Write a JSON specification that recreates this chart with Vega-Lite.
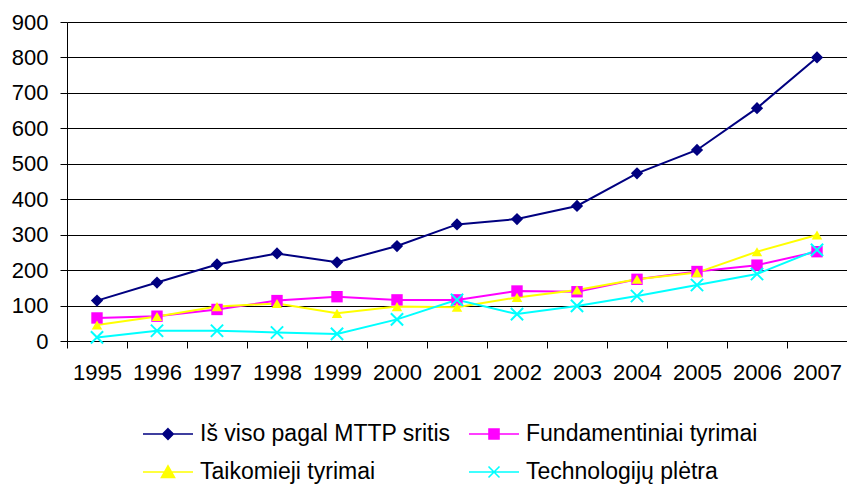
{
  "$schema": "https://vega.github.io/schema/vega-lite/v6.json",
  "width": 780,
  "height": 319,
  "autosize": {"type": "none"},
  "padding": {"left": 67, "top": 22, "right": 0, "bottom": 145},
  "background": "#ffffff",
  "config": {
    "view": {"stroke": null},
    "font": "Liberation Sans",
    "axis": {"labelFont": "Liberation Sans", "labelFontSize": 22, "labelColor": "#000000", "domainColor": "#000000", "tickColor": "#000000", "gridColor": "#000000", "domainWidth": 1, "tickWidth": 1, "gridWidth": 1, "title": null},
    "legend": {"labelFont": "Liberation Sans", "labelFontSize": 23, "labelColor": "#000000", "labelLimit": 400}
  },
  "data": {
    "values": [
      {"year": "1995", "series": "Iš viso pagal MTTP sritis", "value": 114},
      {"year": "1996", "series": "Iš viso pagal MTTP sritis", "value": 165},
      {"year": "1997", "series": "Iš viso pagal MTTP sritis", "value": 216},
      {"year": "1998", "series": "Iš viso pagal MTTP sritis", "value": 247},
      {"year": "1999", "series": "Iš viso pagal MTTP sritis", "value": 222},
      {"year": "2000", "series": "Iš viso pagal MTTP sritis", "value": 268},
      {"year": "2001", "series": "Iš viso pagal MTTP sritis", "value": 329},
      {"year": "2002", "series": "Iš viso pagal MTTP sritis", "value": 344},
      {"year": "2003", "series": "Iš viso pagal MTTP sritis", "value": 381},
      {"year": "2004", "series": "Iš viso pagal MTTP sritis", "value": 473},
      {"year": "2005", "series": "Iš viso pagal MTTP sritis", "value": 539},
      {"year": "2006", "series": "Iš viso pagal MTTP sritis", "value": 657},
      {"year": "2007", "series": "Iš viso pagal MTTP sritis", "value": 800},
      {"year": "1995", "series": "Fundamentiniai tyrimai", "value": 65},
      {"year": "1996", "series": "Fundamentiniai tyrimai", "value": 70},
      {"year": "1997", "series": "Fundamentiniai tyrimai", "value": 89},
      {"year": "1998", "series": "Fundamentiniai tyrimai", "value": 114},
      {"year": "1999", "series": "Fundamentiniai tyrimai", "value": 125},
      {"year": "2000", "series": "Fundamentiniai tyrimai", "value": 116},
      {"year": "2001", "series": "Fundamentiniai tyrimai", "value": 116},
      {"year": "2002", "series": "Fundamentiniai tyrimai", "value": 141},
      {"year": "2003", "series": "Fundamentiniai tyrimai", "value": 139},
      {"year": "2004", "series": "Fundamentiniai tyrimai", "value": 174},
      {"year": "2005", "series": "Fundamentiniai tyrimai", "value": 196},
      {"year": "2006", "series": "Fundamentiniai tyrimai", "value": 214},
      {"year": "2007", "series": "Fundamentiniai tyrimai", "value": 252},
      {"year": "1995", "series": "Taikomieji tyrimai", "value": 45},
      {"year": "1996", "series": "Taikomieji tyrimai", "value": 69},
      {"year": "1997", "series": "Taikomieji tyrimai", "value": 97},
      {"year": "1998", "series": "Taikomieji tyrimai", "value": 106},
      {"year": "1999", "series": "Taikomieji tyrimai", "value": 78},
      {"year": "2000", "series": "Taikomieji tyrimai", "value": 97},
      {"year": "2001", "series": "Taikomieji tyrimai", "value": 95},
      {"year": "2002", "series": "Taikomieji tyrimai", "value": 123},
      {"year": "2003", "series": "Taikomieji tyrimai", "value": 144},
      {"year": "2004", "series": "Taikomieji tyrimai", "value": 174},
      {"year": "2005", "series": "Taikomieji tyrimai", "value": 193},
      {"year": "2006", "series": "Taikomieji tyrimai", "value": 252},
      {"year": "2007", "series": "Taikomieji tyrimai", "value": 299},
      {"year": "1995", "series": "Technologijų plėtra", "value": 10},
      {"year": "1996", "series": "Technologijų plėtra", "value": 29},
      {"year": "1997", "series": "Technologijų plėtra", "value": 29},
      {"year": "1998", "series": "Technologijų plėtra", "value": 24},
      {"year": "1999", "series": "Technologijų plėtra", "value": 20},
      {"year": "2000", "series": "Technologijų plėtra", "value": 61},
      {"year": "2001", "series": "Technologijų plėtra", "value": 116},
      {"year": "2002", "series": "Technologijų plėtra", "value": 76},
      {"year": "2003", "series": "Technologijų plėtra", "value": 99},
      {"year": "2004", "series": "Technologijų plėtra", "value": 127},
      {"year": "2005", "series": "Technologijų plėtra", "value": 158},
      {"year": "2006", "series": "Technologijų plėtra", "value": 189},
      {"year": "2007", "series": "Technologijų plėtra", "value": 257}
    ]
  },
  "encoding": {
    "x": {"field": "year", "type": "ordinal", "scale": {"paddingInner": 0, "paddingOuter": 0},
      "axis": {"labelAngle": 0, "tickBand": "extent", "tickSize": 7, "labelPadding": 14, "grid": false}},
    "y": {"field": "value", "type": "quantitative", "scale": {"domain": [0, 900], "nice": false},
      "axis": {"values": [0, 100, 200, 300, 400, 500, 600, 700, 800, 900], "tickSize": 7, "labelPadding": 12, "grid": true}},
    "color": {"field": "series", "type": "nominal",
      "scale": {"domain": ["Iš viso pagal MTTP sritis", "Fundamentiniai tyrimai", "Taikomieji tyrimai", "Technologijų plėtra"], "range": ["#000080", "#FF00FF", "#FFFF00", "#00FFFF"]}}
  },
  "layer": [
    {
      "mark": {"type": "line", "strokeWidth": 2},
      "encoding": {
        "color": {"field": "series", "type": "nominal",
          "legend": {"title": null, "orient": "none", "direction": "horizontal", "legendX": 75, "legendY": 386, "columns": 2, "columnPadding": 14, "rowPadding": -6, "symbolSize": 2500, "labelOffset": 6, "padding": 0, "labelFontSize": 23, "labelLimit": 400, "labelFont": "Liberation Sans",
            "encode": {"symbols": {"update": {
              "shape": {"signal": "datum.value == 'Iš viso pagal MTTP sritis' ? 'M-1,0H1M0,-0.21L0.21,0L0,0.21L-0.21,0Z' : datum.value == 'Fundamentiniai tyrimai' ? 'M-1,0H1M-0.2,-0.2H0.2V0.2H-0.2Z' : datum.value == 'Taikomieji tyrimai' ? 'M-1,0H1M0,-0.24L0.26,0.22H-0.26Z' : 'M-1,0H1M-0.22,-0.22L0.22,0.22M-0.22,0.22L0.22,-0.22'"},
              "fill": {"scale": "color", "field": "value"},
              "stroke": {"scale": "color", "field": "value"},
              "strokeWidth": {"value": 1.6},
              "opacity": {"value": 1},
              "fillOpacity": {"value": 1}
            }}}}}
      }
    },
    {
      "transform": [{"filter": "datum.series != 'Technologijų plėtra'"}],
      "mark": {"type": "point", "filled": true, "opacity": 1},
      "encoding": {
        "shape": {"field": "series", "type": "nominal", "legend": null,
          "scale": {"domain": ["Iš viso pagal MTTP sritis", "Fundamentiniai tyrimai", "Taikomieji tyrimai"], "range": ["diamond", "square", "triangle-up"]}},
        "size": {"field": "series", "type": "nominal", "legend": null,
          "scale": {"domain": ["Iš viso pagal MTTP sritis", "Fundamentiniai tyrimai", "Taikomieji tyrimai"], "range": [150, 110, 180]}}
      }
    },
    {
      "transform": [{"filter": "datum.series == 'Technologijų plėtra'"}],
      "mark": {"type": "point", "filled": false, "opacity": 1, "shape": "M-1,-1L1,1M-1,1L1,-1", "size": 150, "strokeWidth": 2}
    }
  ]
}
